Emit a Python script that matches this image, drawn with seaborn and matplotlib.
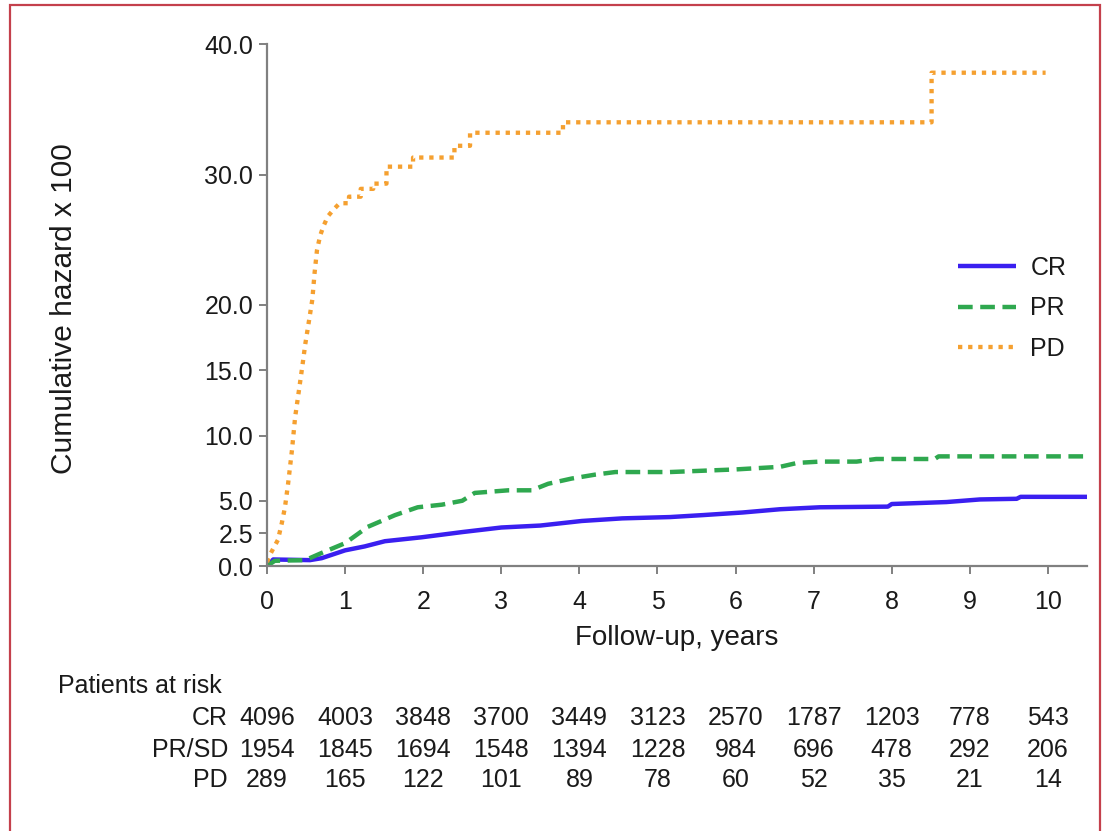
import matplotlib
matplotlib.use("Agg")
import matplotlib.pyplot as plt
import matplotlib.patches as mpatches
import matplotlib.transforms as mtransforms
import seaborn as sns
import pandas as pd

# ---- data ----
cr_t = [0, 0.08, 0.55, 0.7, 1.0, 1.25, 1.51, 1.98, 2.5, 3.0, 3.5, 4.03, 4.55, 5.16, 5.58,
        6.09, 6.57, 7.08, 7.95, 8.0, 8.7, 9.13, 9.6, 9.65, 10.53]
cr_v = [0, 0.5, 0.45, 0.6, 1.2, 1.5, 1.9, 2.2, 2.6, 2.95, 3.1, 3.45, 3.65, 3.75, 3.9,
        4.1, 4.35, 4.5, 4.55, 4.75, 4.9, 5.1, 5.15, 5.3, 5.3]

pr_t = [0, 0.1, 0.49, 0.7, 1.0, 1.29, 1.64, 1.93, 2.24, 2.5, 2.66, 3.09, 3.39, 3.6, 3.9,
        4.2, 4.46, 5.16, 6.0, 6.57, 6.79, 7.08, 7.55, 7.8, 8.55, 8.6, 10.45]
pr_v = [0, 0.4, 0.45, 1.0, 1.75, 3.0, 3.9, 4.5, 4.7, 5.0, 5.6, 5.8, 5.8, 6.3, 6.7,
        7.0, 7.2, 7.2, 7.4, 7.6, 7.9, 8.0, 8.0, 8.2, 8.2, 8.4, 8.4]

# PD: smooth early rise, then step corners of the plateaus
pd_t = [0, 0.05, 0.14, 0.19, 0.23, 0.27, 0.32, 0.36, 0.41, 0.45, 0.49, 0.53, 0.58, 0.61,
        0.64, 0.68, 0.72, 0.78, 0.85, 0.93, 1.05, 1.05, 1.2, 1.2, 1.36, 1.36, 1.53, 1.53,
        1.87, 1.87, 2.4, 2.4, 2.6, 2.6, 3.79, 3.79, 8.51, 8.51, 9.97]
pd_v = [0.3, 1.0, 2.0, 3.3, 4.5, 6.3, 8.9, 11.4, 13.5, 15.2, 17.0, 18.5, 20.4, 22.5,
        24.2, 25.3, 26.0, 26.8, 27.3, 27.8, 27.8, 28.3, 28.3, 28.9, 28.9, 29.3, 29.3, 30.6,
        30.6, 31.3, 31.3, 32.2, 32.2, 33.2, 33.2, 34.0, 34.0, 37.8, 37.8]

x_ticks = list(range(0, 11))
y_ticks = [0, 2.5, 5, 10, 15, 20, 30, 40]

risk_labels = ["CR", "PR/SD", "PD"]
risk_cr = [4096, 4003, 3848, 3700, 3449, 3123, 2570, 1787, 1203, 778, 543]
risk_pr = [1954, 1845, 1694, 1548, 1394, 1228, 984, 696, 478, 292, 206]
risk_pd = [289, 165, 122, 101, 89, 78, 60, 52, 35, 21, 14]

# ---- style ----
sns.set_theme(style="white")
plt.rcParams["font.family"] = ["Liberation Sans", "DejaVu Sans"]

W, H = 1104, 831
fig = plt.figure(figsize=(W / 100, H / 100), dpi=100)
ax = fig.add_axes([267 / W, 1 - 566 / H, (1087 - 267) / W, (566 - 44) / H])

c_cr, c_pr, c_pd = "#3a1ff0", "#2fa84f", "#f5a030"
df_cr = pd.DataFrame({"t": cr_t, "v": cr_v})
df_pr = pd.DataFrame({"t": pr_t, "v": pr_v})
df_pd = pd.DataFrame({"t": pd_t, "v": pd_v})

sns.lineplot(data=df_cr, x="t", y="v", ax=ax, color=c_cr, lw=3.2, estimator=None,
             sort=False, label="CR", solid_capstyle="butt")
sns.lineplot(data=df_pr, x="t", y="v", ax=ax, color=c_pr, lw=3.2, estimator=None,
             sort=False, label="PR", linestyle=(0, (3.3, 1.7)), dash_capstyle="butt")
sns.lineplot(data=df_pd, x="t", y="v", ax=ax, color=c_pd, lw=3.1, estimator=None,
             sort=False, label="PD", linestyle=(0, (1, 1.35)), dash_capstyle="butt")

ax.set_xlim(0, 10.5)
ax.set_ylim(0, 40)
ax.set_xticks(x_ticks)
ax.set_xticklabels([str(t) for t in x_ticks])
ax.set_yticks(y_ticks)
ax.set_yticklabels([f"{v:.1f}" for v in y_ticks])

grey = "#808080"
for s in ["top", "right"]:
    ax.spines[s].set_visible(False)
for s in ["left", "bottom"]:
    ax.spines[s].set_color(grey)
    ax.spines[s].set_linewidth(1.6)
ax.tick_params(axis="both", direction="out", length=6, width=1.4, color=grey,
               labelsize=18, labelcolor="#1a1a1a")
ax.tick_params(axis="x", pad=11)
ax.tick_params(axis="y", pad=4)
ax.tick_params(left=True, bottom=True)

ax.set_xlabel("Follow-up, years", fontsize=20, color="#1a1a1a", va="center")
ax.xaxis.set_label_coords(0.5, -0.137)
ax.set_ylabel("Cumulative hazard x 100", fontsize=21.5, color="#1a1a1a", va="center",
              ha="center")
ax.yaxis.set_label_coords((64 - 267) / 820, 0.494)

leg = ax.legend(loc="upper left", bbox_to_anchor=(958 / W, 1 - 256 / H),
                bbox_transform=fig.transFigure, frameon=False, fontsize=18,
                handlelength=2.3, handletextpad=0.6, labelspacing=0.65, borderpad=0,
                borderaxespad=0)
for t in leg.get_texts():
    t.set_color("#1a1a1a")

# ---- patients at risk table ----
trans = mtransforms.blended_transform_factory(ax.transData, fig.transFigure)
fig.text(58 / W, 1 - 686 / H, "Patients at risk", fontsize=18, ha="left", va="center",
         color="#1a1a1a")
rows_y = [1 - 718 / H, 1 - 750 / H, 1 - 780 / H]
for lab, vals, yy in zip(risk_labels, [risk_cr, risk_pr, risk_pd], rows_y):
    fig.text(228 / W, yy, lab, fontsize=18, ha="right", va="center", color="#1a1a1a")
    for t, n in zip(x_ticks, vals):
        ax.text(t, yy, str(n), transform=trans, fontsize=18, ha="center", va="center",
                color="#1a1a1a", clip_on=False)

# ---- red frame ----
fig.patches.append(mpatches.Rectangle((10 / W, -0.01), (1100 - 10) / W, 1.004,
                                      transform=fig.transFigure, fill=False,
                                      edgecolor="#c4404c", lw=1.6))

fig.savefig("out.png", dpi=100, facecolor="white")
